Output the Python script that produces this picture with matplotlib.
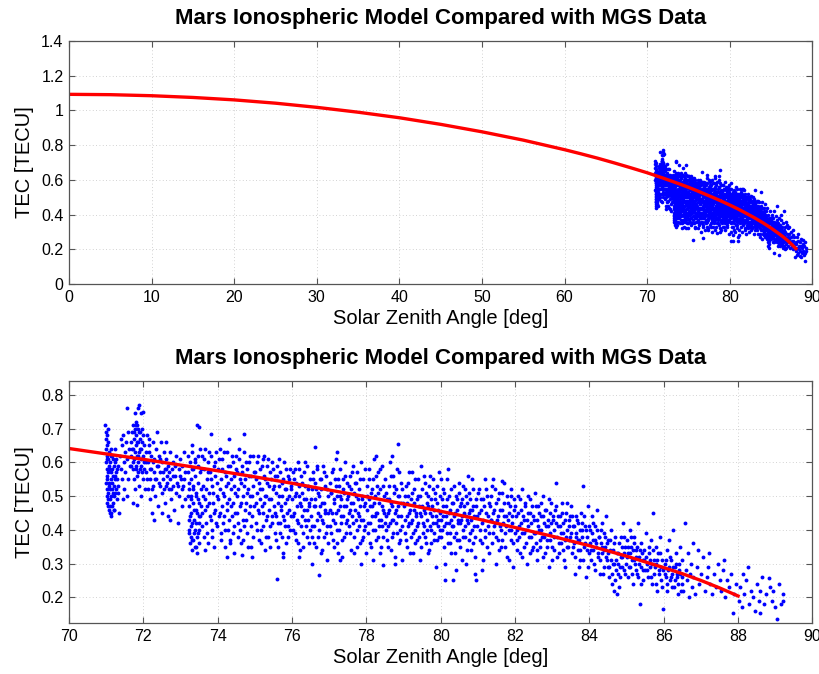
import numpy as np
from matplotlib import pyplot as plt
from matplotlib.ticker import FormatStrFormatter

plt.rcParams['font.family'] = ['Liberation Sans', 'DejaVu Sans']

# model curve (solar zenith angle [deg], TEC [TECU])
model_sza = [0, 5, 10, 15, 20, 25, 30, 35, 40, 45, 50, 55, 60, 62, 64, 66, 68, 70, 71, 72, 73, 74, 75,
             76, 77, 78, 79, 80, 81, 82, 83, 84, 85, 86, 86.5, 87, 87.5, 87.75, 88]
model_tec = [1.093, 1.091, 1.085, 1.075, 1.061, 1.042, 1.018, 0.990, 0.958, 0.920, 0.877, 0.829, 0.774,
             0.750, 0.725, 0.698, 0.670, 0.641, 0.625, 0.609, 0.592, 0.575, 0.557, 0.538, 0.518, 0.498,
             0.477, 0.455, 0.432, 0.407, 0.381, 0.353, 0.322, 0.288, 0.270, 0.250, 0.228, 0.216, 0.204]

# MGS observations (sza, tec), grouped by zenith angle band
obs_71 = [(70.98, 0.71), (70.99, 0.69), (71.00, 0.67), (71.00, 0.64), (71.01, 0.62), (71.00, 0.60),
          (71.02, 0.58), (71.01, 0.56), (71.00, 0.54), (71.02, 0.52), (71.01, 0.50), (71.03, 0.48),
          (71.05, 0.66), (71.06, 0.61), (71.05, 0.57), (71.07, 0.53), (71.06, 0.49), (71.08, 0.46),
          (71.10, 0.45), (71.12, 0.44), (71.14, 0.45), (71.11, 0.47), (71.13, 0.50), (71.10, 0.52),
          (71.12, 0.55), (71.09, 0.58), (71.11, 0.60), (71.08, 0.63), (71.15, 0.62), (71.16, 0.58),
          (71.17, 0.54), (71.18, 0.51), (71.19, 0.48), (71.20, 0.46), (71.21, 0.50), (71.22, 0.53),
          (71.23, 0.56), (71.24, 0.60), (71.26, 0.57), (71.27, 0.52), (71.28, 0.49), (71.30, 0.55),
          (71.31, 0.59), (71.33, 0.53), (71.34, 0.45), (71.04, 0.70), (71.03, 0.68), (71.14, 0.64),
          (71.20, 0.59), (71.25, 0.64),
          (71.01, 0.65), (71.02, 0.61), (71.03, 0.55), (71.04, 0.51), (71.05, 0.47), (71.07, 0.59),
          (71.09, 0.54), (71.10, 0.49), (71.12, 0.62), (71.13, 0.57), (71.15, 0.47), (71.16, 0.52),
          (71.18, 0.56), (71.19, 0.61), (71.21, 0.46), (71.23, 0.51), (71.25, 0.55), (71.27, 0.61),
          (71.29, 0.58), (71.32, 0.51),
          (71.38, 0.62), (71.40, 0.58), (71.42, 0.65), (71.44, 0.55), (71.45, 0.68), (71.47, 0.60),
          (71.49, 0.52), (71.50, 0.63), (71.52, 0.57), (71.54, 0.66), (71.55, 0.50), (71.57, 0.61),
          (71.58, 0.69), (71.60, 0.55), (71.62, 0.64), (71.63, 0.59), (71.46, 0.49), (71.41, 0.67),
          (71.56, 0.76)]

obs_71b = [(71.66, 0.66), (71.68, 0.62), (71.70, 0.69), (71.71, 0.58), (71.72, 0.64), (71.73, 0.71),
           (71.74, 0.55), (71.75, 0.67), (71.76, 0.61), (71.77, 0.70), (71.78, 0.52), (71.79, 0.65),
           (71.80, 0.72), (71.80, 0.59), (71.81, 0.68), (71.82, 0.62), (71.83, 0.71), (71.84, 0.56),
           (71.85, 0.66), (71.86, 0.60), (71.87, 0.70), (71.88, 0.63), (71.89, 0.53), (71.90, 0.67),
           (71.91, 0.58), (71.92, 0.69), (71.93, 0.61), (71.94, 0.64), (71.95, 0.50), (71.96, 0.66),
           (71.97, 0.57), (71.98, 0.62), (71.99, 0.68), (72.00, 0.55), (72.01, 0.60), (72.03, 0.65),
           (72.04, 0.52), (71.85, 0.76), (71.88, 0.77), (71.93, 0.745), (71.98, 0.75), (71.78, 0.745),
           (71.72, 0.48), (71.82, 0.475),
           (71.67, 0.59), (71.70, 0.64), (71.73, 0.60), (71.75, 0.69), (71.77, 0.63), (71.79, 0.58),
           (71.81, 0.71), (71.83, 0.66), (71.85, 0.62), (71.87, 0.57), (71.89, 0.69), (71.91, 0.64),
           (71.94, 0.59), (71.96, 0.70), (71.99, 0.61), (72.02, 0.58)]

obs_72 = [(72.07, 0.63), (72.08, 0.57), (72.10, 0.68), (72.12, 0.52), (72.13, 0.60), (72.15, 0.65),
          (72.17, 0.55), (72.18, 0.49), (72.20, 0.62), (72.22, 0.58), (72.24, 0.45), (72.25, 0.66),
          (72.27, 0.53), (72.29, 0.61), (72.30, 0.57), (72.32, 0.50), (72.34, 0.64), (72.35, 0.55),
          (72.37, 0.69), (72.39, 0.59), (72.40, 0.47), (72.42, 0.62), (72.44, 0.53), (72.46, 0.57),
          (72.47, 0.66), (72.49, 0.51), (72.51, 0.60), (72.53, 0.55), (72.55, 0.63), (72.57, 0.48),
          (72.58, 0.58), (72.60, 0.53), (72.62, 0.61), (72.64, 0.56), (72.66, 0.44), (72.67, 0.59),
          (72.69, 0.52), (72.71, 0.63), (72.73, 0.55), (72.75, 0.49), (72.77, 0.58), (72.79, 0.53),
          (72.81, 0.60), (72.83, 0.46), (72.85, 0.56), (72.87, 0.51), (72.89, 0.62), (72.91, 0.54),
          (72.93, 0.42), (72.95, 0.58), (72.97, 0.50), (72.99, 0.61), (73.01, 0.55), (73.03, 0.47),
          (73.05, 0.59), (73.07, 0.53), (73.09, 0.63), (73.11, 0.57), (73.13, 0.49), (72.28, 0.43),
          (72.50, 0.45), (72.72, 0.43), (72.16, 0.67), (72.60, 0.66),
          (72.06, 0.60), (72.11, 0.55), (72.14, 0.63), (72.19, 0.58), (72.23, 0.52), (72.26, 0.60),
          (72.31, 0.55), (72.36, 0.59), (72.41, 0.54), (72.45, 0.61), (72.52, 0.57), (72.56, 0.52),
          (72.61, 0.58), (72.65, 0.54), (72.70, 0.57), (72.74, 0.52), (72.80, 0.56), (72.86, 0.59),
          (72.92, 0.53), (72.98, 0.56), (73.04, 0.52), (73.10, 0.55)]

obs_73 = [(73.20, 0.62), (73.21, 0.57), (73.22, 0.52), (73.22, 0.47), (73.23, 0.43), (73.24, 0.39),
          (73.25, 0.36), (73.26, 0.60), (73.27, 0.55), (73.28, 0.50), (73.28, 0.45), (73.29, 0.41),
          (73.30, 0.37), (73.31, 0.34), (73.32, 0.63), (73.33, 0.58), (73.34, 0.53), (73.35, 0.48),
          (73.36, 0.43), (73.37, 0.39), (73.38, 0.35), (73.39, 0.61), (73.40, 0.56), (73.41, 0.51),
          (73.42, 0.46), (73.43, 0.42), (73.44, 0.38), (73.45, 0.33), (73.46, 0.59), (73.47, 0.54),
          (73.48, 0.49), (73.49, 0.44), (73.50, 0.40), (73.51, 0.36), (73.52, 0.64), (73.53, 0.57),
          (73.54, 0.52), (73.55, 0.47), (73.45, 0.71), (73.50, 0.705), (73.30, 0.65),
          (73.21, 0.50), (73.23, 0.40), (73.24, 0.54), (73.26, 0.44), (73.27, 0.38), (73.29, 0.49),
          (73.31, 0.58), (73.32, 0.42), (73.34, 0.37), (73.35, 0.52), (73.37, 0.46), (73.38, 0.60),
          (73.40, 0.40), (73.41, 0.35), (73.43, 0.50), (73.44, 0.45), (73.46, 0.39), (73.47, 0.62),
          (73.49, 0.48), (73.51, 0.42),
          (73.57, 0.62), (73.58, 0.45), (73.60, 0.53), (73.62, 0.38), (73.63, 0.58), (73.65, 0.49),
          (73.67, 0.64), (73.68, 0.42), (73.70, 0.55), (73.72, 0.47), (73.74, 0.60), (73.75, 0.36),
          (73.77, 0.51), (73.79, 0.57), (73.80, 0.44), (73.82, 0.62), (73.84, 0.40), (73.85, 0.53),
          (73.87, 0.48), (73.89, 0.59), (73.91, 0.35), (73.92, 0.56), (73.94, 0.46), (73.96, 0.63),
          (73.98, 0.50), (73.99, 0.41), (73.81, 0.685), (73.66, 0.34),
          (73.53, 0.44), (73.56, 0.58), (73.59, 0.41), (73.61, 0.50), (73.64, 0.61), (73.66, 0.46),
          (73.69, 0.52), (73.71, 0.39), (73.73, 0.57), (73.76, 0.48), (73.78, 0.63), (73.81, 0.43),
          (73.83, 0.55), (73.86, 0.38), (73.88, 0.51), (73.90, 0.45), (73.93, 0.60), (73.95, 0.42),
          (73.97, 0.54)]

obs_74 = [(74.01, 0.58), (74.03, 0.44), (74.05, 0.52), (74.06, 0.64), (74.08, 0.39), (74.10, 0.55),
          (74.12, 0.47), (74.13, 0.61), (74.15, 0.42), (74.17, 0.50), (74.19, 0.57), (74.20, 0.35),
          (74.22, 0.53), (74.24, 0.46), (74.26, 0.63), (74.27, 0.40), (74.29, 0.54), (74.31, 0.49),
          (74.33, 0.59), (74.34, 0.37), (74.36, 0.52), (74.38, 0.44), (74.40, 0.60), (74.42, 0.48),
          (74.44, 0.56), (74.45, 0.41), (74.47, 0.51), (74.49, 0.62), (74.30, 0.67), (74.25, 0.32),
          (74.45, 0.33),
          (74.02, 0.49), (74.04, 0.61), (74.07, 0.45), (74.09, 0.37), (74.11, 0.58), (74.14, 0.51),
          (74.16, 0.44), (74.18, 0.63), (74.21, 0.40), (74.23, 0.56), (74.25, 0.48), (74.28, 0.59),
          (74.30, 0.43), (74.32, 0.36), (74.35, 0.55), (74.37, 0.47), (74.39, 0.62), (74.41, 0.39),
          (74.43, 0.53), (74.46, 0.45), (74.48, 0.58),
          (74.51, 0.45), (74.53, 0.57), (74.54, 0.38), (74.56, 0.52), (74.58, 0.61), (74.60, 0.47),
          (74.62, 0.54), (74.63, 0.36), (74.65, 0.59), (74.67, 0.43), (74.69, 0.50), (74.71, 0.63),
          (74.72, 0.41), (74.74, 0.55), (74.76, 0.48), (74.78, 0.58), (74.80, 0.39), (74.81, 0.52),
          (74.83, 0.45), (74.85, 0.60), (74.87, 0.50), (74.89, 0.35), (74.90, 0.56), (74.92, 0.44),
          (74.94, 0.53), (74.96, 0.62), (74.98, 0.47), (74.70, 0.685), (74.65, 0.325), (74.93, 0.32),
          (74.52, 0.50), (74.55, 0.42), (74.57, 0.64), (74.59, 0.55), (74.61, 0.40), (74.64, 0.48),
          (74.66, 0.57), (74.68, 0.37), (74.70, 0.53), (74.73, 0.46), (74.75, 0.60), (74.77, 0.43),
          (74.79, 0.51), (74.82, 0.35), (74.84, 0.56), (74.86, 0.47), (74.88, 0.62), (74.91, 0.41),
          (74.93, 0.50), (74.95, 0.38), (74.97, 0.57)]

obs_75 = [(75.01, 0.57), (75.03, 0.42), (75.05, 0.51), (75.06, 0.60), (75.08, 0.46), (75.10, 0.37),
          (75.12, 0.54), (75.13, 0.49), (75.15, 0.58), (75.17, 0.40), (75.19, 0.52), (75.21, 0.45),
          (75.22, 0.61), (75.24, 0.48), (75.26, 0.34), (75.28, 0.55), (75.29, 0.43), (75.31, 0.50),
          (75.33, 0.59), (75.35, 0.38), (75.37, 0.53), (75.38, 0.46), (75.40, 0.57), (75.42, 0.41),
          (75.44, 0.49), (75.46, 0.60), (75.47, 0.44), (75.49, 0.52), (75.25, 0.62),
          (75.02, 0.48), (75.04, 0.55), (75.07, 0.40), (75.09, 0.62), (75.11, 0.45), (75.14, 0.52),
          (75.16, 0.36), (75.18, 0.59), (75.20, 0.47), (75.23, 0.41), (75.25, 0.56), (75.27, 0.50),
          (75.30, 0.38), (75.32, 0.54), (75.34, 0.44), (75.36, 0.61), (75.39, 0.49), (75.41, 0.35),
          (75.43, 0.55), (75.45, 0.42), (75.48, 0.58),
          (75.51, 0.47), (75.53, 0.56), (75.55, 0.39), (75.56, 0.51), (75.58, 0.44), (75.60, 0.59),
          (75.62, 0.48), (75.63, 0.35), (75.65, 0.53), (75.67, 0.42), (75.69, 0.57), (75.71, 0.46),
          (75.72, 0.50), (75.74, 0.38), (75.76, 0.55), (75.78, 0.43), (75.79, 0.60), (75.81, 0.48),
          (75.83, 0.52), (75.85, 0.36), (75.87, 0.45), (75.88, 0.56), (75.90, 0.41), (75.92, 0.50),
          (75.94, 0.58), (75.96, 0.44), (75.98, 0.53), (75.60, 0.255), (75.75, 0.32),
          (75.52, 0.53), (75.54, 0.45), (75.57, 0.37), (75.59, 0.56), (75.61, 0.42), (75.64, 0.50),
          (75.66, 0.61), (75.68, 0.39), (75.70, 0.47), (75.73, 0.54), (75.75, 0.44), (75.77, 0.33),
          (75.80, 0.52), (75.82, 0.41), (75.84, 0.58), (75.86, 0.49), (75.89, 0.38), (75.91, 0.55),
          (75.93, 0.46), (75.95, 0.40), (75.97, 0.52)]

obs_76 = [(76.01, 0.49), (76.03, 0.40), (76.05, 0.55), (76.06, 0.45), (76.08, 0.58), (76.10, 0.37),
          (76.12, 0.51), (76.13, 0.47), (76.15, 0.60), (76.17, 0.42), (76.19, 0.53), (76.21, 0.34),
          (76.22, 0.48), (76.24, 0.56), (76.26, 0.44), (76.28, 0.51), (76.29, 0.39), (76.31, 0.57),
          (76.33, 0.46), (76.35, 0.53), (76.37, 0.41), (76.38, 0.49), (76.40, 0.59), (76.42, 0.43),
          (76.44, 0.52), (76.46, 0.36), (76.47, 0.47), (76.49, 0.55), (76.20, 0.32),
          (76.02, 0.44), (76.04, 0.57), (76.07, 0.50), (76.09, 0.39), (76.11, 0.54), (76.14, 0.43),
          (76.16, 0.36), (76.18, 0.50), (76.20, 0.58), (76.23, 0.41), (76.25, 0.47), (76.27, 0.54),
          (76.30, 0.35), (76.32, 0.49), (76.34, 0.43), (76.36, 0.60), (76.39, 0.46), (76.41, 0.38),
          (76.43, 0.53), (76.45, 0.48), (76.48, 0.40),
          (76.51, 0.44), (76.53, 0.52), (76.55, 0.38), (76.56, 0.57), (76.58, 0.47), (76.60, 0.41),
          (76.62, 0.54), (76.63, 0.49), (76.65, 0.35), (76.67, 0.58), (76.69, 0.45), (76.71, 0.51),
          (76.72, 0.40), (76.74, 0.55), (76.76, 0.47), (76.78, 0.33), (76.79, 0.52), (76.81, 0.43),
          (76.83, 0.59), (76.85, 0.48), (76.87, 0.38), (76.88, 0.53), (76.90, 0.45), (76.92, 0.56),
          (76.94, 0.41), (76.96, 0.50), (76.98, 0.36), (76.62, 0.645), (76.72, 0.265), (76.55, 0.30),
          (76.52, 0.49), (76.54, 0.41), (76.57, 0.55), (76.59, 0.36), (76.61, 0.47), (76.64, 0.52),
          (76.66, 0.43), (76.68, 0.59), (76.70, 0.38), (76.73, 0.50), (76.75, 0.44), (76.77, 0.55),
          (76.80, 0.34), (76.82, 0.48), (76.84, 0.42), (76.86, 0.57), (76.89, 0.46), (76.91, 0.39),
          (76.93, 0.52), (76.95, 0.31), (76.97, 0.45)]

obs_77 = [(77.01, 0.54), (77.03, 0.46), (77.05, 0.39), (77.06, 0.51), (77.08, 0.57), (77.10, 0.43),
          (77.12, 0.48), (77.13, 0.35), (77.15, 0.55), (77.17, 0.45), (77.19, 0.61), (77.21, 0.40),
          (77.22, 0.50), (77.24, 0.33), (77.26, 0.53), (77.28, 0.47), (77.29, 0.58), (77.31, 0.42),
          (77.33, 0.49), (77.35, 0.37), (77.37, 0.55), (77.38, 0.44), (77.40, 0.51), (77.42, 0.60),
          (77.44, 0.39), (77.46, 0.47), (77.47, 0.54), (77.49, 0.43), (77.30, 0.31), (77.20, 0.63),
          (77.02, 0.41), (77.04, 0.51), (77.07, 0.45), (77.09, 0.58), (77.11, 0.37), (77.14, 0.49),
          (77.16, 0.42), (77.18, 0.53), (77.20, 0.36), (77.23, 0.46), (77.25, 0.55), (77.27, 0.40),
          (77.30, 0.50), (77.32, 0.44), (77.34, 0.32), (77.36, 0.52), (77.39, 0.47), (77.41, 0.38),
          (77.43, 0.56), (77.45, 0.42), (77.48, 0.49),
          (77.51, 0.50), (77.53, 0.41), (77.55, 0.56), (77.56, 0.46), (77.58, 0.34), (77.60, 0.52),
          (77.62, 0.44), (77.63, 0.59), (77.65, 0.48), (77.67, 0.38), (77.69, 0.54), (77.71, 0.43),
          (77.72, 0.50), (77.74, 0.35), (77.76, 0.57), (77.78, 0.45), (77.79, 0.41), (77.81, 0.52),
          (77.83, 0.47), (77.85, 0.60), (77.87, 0.37), (77.88, 0.49), (77.90, 0.43), (77.92, 0.55),
          (77.94, 0.40), (77.96, 0.48), (77.98, 0.33), (77.86, 0.30),
          (77.52, 0.45), (77.54, 0.53), (77.57, 0.39), (77.59, 0.48), (77.61, 0.57), (77.64, 0.42),
          (77.66, 0.51), (77.68, 0.33), (77.70, 0.46), (77.73, 0.54), (77.75, 0.40), (77.77, 0.49),
          (77.80, 0.44), (77.82, 0.36), (77.84, 0.55), (77.86, 0.43), (77.89, 0.50), (77.91, 0.38),
          (77.93, 0.47), (77.95, 0.58), (77.97, 0.41)]

obs_78 = [(78.01, 0.46), (78.03, 0.53), (78.05, 0.39), (78.06, 0.49), (78.08, 0.58), (78.10, 0.42),
          (78.12, 0.51), (78.13, 0.35), (78.15, 0.47), (78.17, 0.55), (78.19, 0.40), (78.21, 0.61),
          (78.22, 0.44), (78.24, 0.50), (78.26, 0.37), (78.28, 0.53), (78.29, 0.45), (78.31, 0.57),
          (78.33, 0.41), (78.35, 0.48), (78.37, 0.33), (78.38, 0.52), (78.40, 0.43), (78.42, 0.59),
          (78.44, 0.46), (78.46, 0.38), (78.47, 0.50), (78.49, 0.42), (78.25, 0.62), (78.45, 0.295),
          (78.02, 0.50), (78.04, 0.42), (78.07, 0.55), (78.09, 0.36), (78.11, 0.47), (78.14, 0.44),
          (78.16, 0.52), (78.18, 0.31), (78.20, 0.48), (78.23, 0.40), (78.25, 0.56), (78.27, 0.45),
          (78.30, 0.38), (78.32, 0.51), (78.34, 0.43), (78.36, 0.58), (78.39, 0.35), (78.41, 0.47),
          (78.43, 0.41), (78.45, 0.53), (78.48, 0.45),
          (78.51, 0.55), (78.53, 0.44), (78.55, 0.37), (78.56, 0.49), (78.58, 0.41), (78.60, 0.53),
          (78.62, 0.46), (78.63, 0.60), (78.65, 0.34), (78.67, 0.48), (78.69, 0.43), (78.71, 0.56),
          (78.72, 0.39), (78.74, 0.51), (78.76, 0.45), (78.78, 0.32), (78.79, 0.52), (78.81, 0.42),
          (78.83, 0.58), (78.85, 0.47), (78.87, 0.36), (78.88, 0.50), (78.90, 0.40), (78.92, 0.54),
          (78.94, 0.44), (78.96, 0.31), (78.98, 0.48), (78.85, 0.655), (78.70, 0.62),
          (78.52, 0.40), (78.54, 0.51), (78.57, 0.45), (78.59, 0.35), (78.61, 0.49), (78.64, 0.42),
          (78.66, 0.56), (78.68, 0.38), (78.70, 0.47), (78.73, 0.43), (78.75, 0.53), (78.77, 0.30),
          (78.80, 0.46), (78.82, 0.39), (78.84, 0.50), (78.86, 0.44), (78.89, 0.57), (78.91, 0.37),
          (78.93, 0.48), (78.95, 0.41), (78.97, 0.52)]

obs_79 = [(79.02, 0.47), (79.04, 0.39), (79.06, 0.53), (79.08, 0.44), (79.10, 0.35), (79.12, 0.50),
          (79.14, 0.42), (79.16, 0.57), (79.18, 0.46), (79.20, 0.38), (79.22, 0.51), (79.24, 0.43),
          (79.26, 0.33), (79.28, 0.48), (79.30, 0.40), (79.32, 0.55), (79.34, 0.45), (79.36, 0.37),
          (79.38, 0.50), (79.40, 0.42), (79.42, 0.47), (79.44, 0.31), (79.46, 0.59), (79.48, 0.44),
          (79.50, 0.52), (79.52, 0.39), (79.54, 0.46), (79.56, 0.41), (79.58, 0.54), (79.60, 0.36),
          (79.62, 0.48), (79.64, 0.43), (79.66, 0.50), (79.68, 0.34), (79.70, 0.45), (79.72, 0.56),
          (79.74, 0.40), (79.76, 0.47), (79.78, 0.42), (79.80, 0.52), (79.82, 0.37), (79.84, 0.49),
          (79.86, 0.44), (79.88, 0.29), (79.90, 0.53), (79.92, 0.41), (79.94, 0.46), (79.96, 0.38),
          (79.98, 0.50),
          (79.03, 0.43), (79.05, 0.50), (79.07, 0.37), (79.09, 0.48), (79.11, 0.41), (79.13, 0.54),
          (79.15, 0.45), (79.17, 0.33), (79.19, 0.49), (79.21, 0.42), (79.23, 0.57), (79.25, 0.39),
          (79.27, 0.46), (79.29, 0.52), (79.31, 0.36), (79.33, 0.44), (79.35, 0.49), (79.37, 0.41),
          (79.39, 0.55), (79.41, 0.38), (79.43, 0.45), (79.45, 0.50), (79.47, 0.35),
          (79.51, 0.47), (79.53, 0.42), (79.55, 0.56), (79.57, 0.38), (79.59, 0.45), (79.61, 0.51),
          (79.63, 0.40), (79.65, 0.33), (79.67, 0.47), (79.69, 0.53), (79.71, 0.41), (79.73, 0.36),
          (79.75, 0.49), (79.77, 0.44), (79.79, 0.55), (79.81, 0.39), (79.83, 0.46), (79.85, 0.51),
          (79.87, 0.42), (79.89, 0.37), (79.91, 0.48), (79.93, 0.43), (79.95, 0.57), (79.97, 0.40),
          (79.99, 0.45)]

obs_80 = [(80.00, 0.43), (80.02, 0.55), (80.04, 0.40), (80.06, 0.47), (80.08, 0.35), (80.10, 0.51),
          (80.12, 0.25), (80.14, 0.44), (80.16, 0.39), (80.18, 0.49), (80.20, 0.58), (80.22, 0.42),
          (80.24, 0.46), (80.26, 0.36), (80.28, 0.52), (80.30, 0.41), (80.32, 0.48), (80.34, 0.25),
          (80.36, 0.44), (80.38, 0.33), (80.40, 0.50), (80.42, 0.39), (80.44, 0.46), (80.46, 0.42),
          (80.48, 0.54), (80.50, 0.37), (80.52, 0.47), (80.54, 0.43), (80.56, 0.31), (80.58, 0.49),
          (80.60, 0.40), (80.62, 0.45), (80.64, 0.52), (80.66, 0.38), (80.68, 0.44), (80.70, 0.48),
          (80.72, 0.34), (80.74, 0.42), (80.76, 0.51), (80.78, 0.46), (80.80, 0.39), (80.82, 0.43),
          (80.84, 0.55), (80.86, 0.36), (80.88, 0.47), (80.90, 0.41), (80.92, 0.32), (80.94, 0.49),
          (80.96, 0.25), (80.98, 0.44),
          (80.01, 0.38), (80.03, 0.49), (80.05, 0.44), (80.07, 0.52), (80.09, 0.41), (80.11, 0.30),
          (80.13, 0.47), (80.15, 0.42), (80.17, 0.55), (80.19, 0.36), (80.21, 0.45), (80.23, 0.50),
          (80.25, 0.39), (80.27, 0.43), (80.29, 0.33), (80.31, 0.48), (80.33, 0.41), (80.35, 0.53),
          (80.37, 0.38), (80.39, 0.45), (80.41, 0.28), (80.43, 0.49), (80.45, 0.37), (80.47, 0.43),
          (80.49, 0.51),
          (80.51, 0.42), (80.53, 0.35), (80.55, 0.48), (80.57, 0.44), (80.59, 0.53), (80.61, 0.38),
          (80.63, 0.47), (80.65, 0.41), (80.67, 0.30), (80.69, 0.50), (80.71, 0.43), (80.73, 0.56),
          (80.75, 0.37), (80.77, 0.45), (80.79, 0.49), (80.81, 0.34), (80.83, 0.46), (80.85, 0.40),
          (80.87, 0.52), (80.89, 0.44), (80.91, 0.38), (80.93, 0.27), (80.95, 0.47), (80.97, 0.41),
          (80.99, 0.51)]

obs_81 = [(81.02, 0.52), (81.05, 0.40), (81.08, 0.46), (81.10, 0.36), (81.13, 0.49), (81.15, 0.43),
          (81.18, 0.55), (81.20, 0.38), (81.23, 0.45), (81.25, 0.50), (81.28, 0.41), (81.30, 0.33),
          (81.33, 0.47), (81.35, 0.43), (81.38, 0.53), (81.40, 0.39), (81.43, 0.46), (81.45, 0.42),
          (81.48, 0.30), (81.50, 0.48), (81.53, 0.37), (81.55, 0.44), (81.58, 0.51), (81.60, 0.41),
          (81.63, 0.35), (81.65, 0.46), (81.68, 0.42), (81.70, 0.54), (81.73, 0.39), (81.75, 0.44),
          (81.78, 0.32), (81.80, 0.48), (81.83, 0.40), (81.85, 0.45), (81.88, 0.37), (81.90, 0.50),
          (81.93, 0.42), (81.95, 0.29), (81.98, 0.46), (81.12, 0.28), (81.42, 0.55), (81.65, 0.545),
          (81.88, 0.52),
          (81.03, 0.45), (81.06, 0.37), (81.09, 0.49), (81.11, 0.42), (81.14, 0.31), (81.16, 0.47),
          (81.19, 0.40), (81.21, 0.52), (81.24, 0.35), (81.26, 0.44), (81.29, 0.48), (81.31, 0.39),
          (81.34, 0.43), (81.36, 0.50), (81.39, 0.36), (81.41, 0.45), (81.44, 0.41), (81.46, 0.52),
          (81.49, 0.38),
          (81.51, 0.43), (81.54, 0.49), (81.56, 0.34), (81.59, 0.46), (81.61, 0.40), (81.64, 0.51),
          (81.66, 0.37), (81.69, 0.44), (81.71, 0.48), (81.74, 0.35), (81.76, 0.41), (81.79, 0.50),
          (81.81, 0.43), (81.84, 0.31), (81.86, 0.47), (81.89, 0.40), (81.91, 0.44), (81.94, 0.36),
          (81.96, 0.49), (81.99, 0.39)]

obs_82 = [(82.02, 0.44), (82.05, 0.37), (82.08, 0.50), (82.10, 0.41), (82.13, 0.33), (82.15, 0.46),
          (82.18, 0.39), (82.20, 0.52), (82.23, 0.43), (82.25, 0.35), (82.28, 0.48), (82.30, 0.40),
          (82.33, 0.30), (82.35, 0.45), (82.38, 0.38), (82.40, 0.49), (82.43, 0.42), (82.45, 0.34),
          (82.48, 0.44), (82.50, 0.39), (82.53, 0.51), (82.55, 0.36), (82.58, 0.43), (82.60, 0.31),
          (82.63, 0.47), (82.65, 0.40), (82.68, 0.35), (82.70, 0.44), (82.73, 0.38), (82.75, 0.50),
          (82.78, 0.42), (82.80, 0.33), (82.83, 0.46), (82.85, 0.37), (82.88, 0.41), (82.90, 0.29),
          (82.93, 0.45), (82.95, 0.39), (82.98, 0.48),
          (82.01, 0.47), (82.04, 0.40), (82.06, 0.34), (82.09, 0.45), (82.11, 0.38), (82.14, 0.49),
          (82.16, 0.42), (82.19, 0.32), (82.21, 0.44), (82.24, 0.39), (82.26, 0.47), (82.29, 0.36),
          (82.31, 0.43), (82.34, 0.50), (82.36, 0.41), (82.39, 0.33), (82.41, 0.45), (82.44, 0.38),
          (82.46, 0.47), (82.49, 0.35),
          (82.51, 0.43), (82.54, 0.39), (82.56, 0.47), (82.59, 0.34), (82.61, 0.41), (82.64, 0.45),
          (82.66, 0.37), (82.69, 0.48), (82.71, 0.40), (82.74, 0.32), (82.76, 0.44), (82.79, 0.38),
          (82.81, 0.46), (82.84, 0.41), (82.86, 0.35), (82.89, 0.43), (82.91, 0.49), (82.94, 0.37),
          (82.96, 0.42), (82.99, 0.31)]

obs_83 = [(83.00, 0.35), (83.03, 0.43), (83.05, 0.38), (83.08, 0.46), (83.10, 0.54), (83.13, 0.32),
          (83.15, 0.41), (83.18, 0.36), (83.20, 0.44), (83.23, 0.39), (83.25, 0.48), (83.28, 0.34),
          (83.30, 0.42), (83.33, 0.37), (83.35, 0.29), (83.38, 0.45), (83.40, 0.40), (83.43, 0.35),
          (83.45, 0.43), (83.48, 0.38), (83.50, 0.47), (83.53, 0.33), (83.55, 0.41), (83.58, 0.36),
          (83.60, 0.27), (83.63, 0.44), (83.65, 0.39), (83.68, 0.34), (83.70, 0.42), (83.73, 0.37),
          (83.75, 0.31), (83.78, 0.45), (83.80, 0.40), (83.82, 0.53), (83.85, 0.35), (83.88, 0.41),
          (83.90, 0.26), (83.93, 0.38), (83.95, 0.47), (83.98, 0.33),
          (83.01, 0.44), (83.04, 0.40), (83.06, 0.34), (83.09, 0.42), (83.11, 0.47), (83.14, 0.38),
          (83.16, 0.44), (83.19, 0.33), (83.21, 0.41), (83.24, 0.36), (83.26, 0.45), (83.29, 0.39),
          (83.31, 0.31), (83.34, 0.43), (83.36, 0.38), (83.39, 0.48), (83.41, 0.35), (83.44, 0.41),
          (83.46, 0.37), (83.49, 0.44),
          (83.51, 0.39), (83.54, 0.44), (83.56, 0.35), (83.59, 0.41), (83.61, 0.32), (83.64, 0.38),
          (83.66, 0.43), (83.69, 0.37), (83.71, 0.29), (83.74, 0.40), (83.76, 0.34), (83.79, 0.42),
          (83.81, 0.38), (83.84, 0.31), (83.86, 0.44), (83.89, 0.36), (83.91, 0.40), (83.94, 0.34),
          (83.96, 0.29), (83.99, 0.41)]

obs_84 = [(84.02, 0.40), (84.05, 0.34), (84.08, 0.44), (84.10, 0.37), (84.13, 0.30), (84.15, 0.41),
          (84.18, 0.35), (84.20, 0.46), (84.23, 0.32), (84.25, 0.38), (84.28, 0.27), (84.30, 0.36),
          (84.33, 0.42), (84.35, 0.33), (84.38, 0.39), (84.40, 0.29), (84.43, 0.35), (84.45, 0.44),
          (84.48, 0.31), (84.50, 0.37), (84.53, 0.26), (84.55, 0.34), (84.58, 0.40), (84.60, 0.24),
          (84.63, 0.30), (84.65, 0.22), (84.67, 0.36), (84.70, 0.25), (84.72, 0.31), (84.74, 0.21),
          (84.76, 0.27), (84.78, 0.33), (84.80, 0.23), (84.83, 0.29), (84.85, 0.38), (84.88, 0.32),
          (84.90, 0.42), (84.93, 0.28), (84.95, 0.35), (84.98, 0.30),
          (84.01, 0.36), (84.04, 0.31), (84.06, 0.39), (84.09, 0.34), (84.11, 0.42), (84.14, 0.37),
          (84.16, 0.28), (84.19, 0.36), (84.21, 0.40), (84.24, 0.33), (84.26, 0.38), (84.29, 0.31),
          (84.31, 0.40), (84.34, 0.35), (84.36, 0.27), (84.39, 0.34), (84.41, 0.38), (84.44, 0.32),
          (84.46, 0.36), (84.49, 0.29),
          (84.51, 0.33), (84.54, 0.29), (84.56, 0.37), (84.59, 0.31), (84.61, 0.27), (84.64, 0.34),
          (84.66, 0.30), (84.69, 0.38), (84.71, 0.28), (84.73, 0.33), (84.77, 0.30), (84.79, 0.36),
          (84.82, 0.26), (84.84, 0.32), (84.87, 0.35), (84.89, 0.29), (84.92, 0.33), (84.94, 0.38),
          (84.97, 0.27)]

obs_85 = [(85.00, 0.37), (85.03, 0.26), (85.05, 0.33), (85.08, 0.40), (85.10, 0.29), (85.13, 0.35),
          (85.15, 0.31), (85.18, 0.24), (85.20, 0.38), (85.23, 0.30), (85.25, 0.34), (85.28, 0.27),
          (85.30, 0.42), (85.33, 0.32), (85.36, 0.18), (85.38, 0.29), (85.40, 0.36), (85.43, 0.31),
          (85.45, 0.25), (85.48, 0.34), (85.50, 0.28), (85.53, 0.39), (85.55, 0.30), (85.58, 0.26),
          (85.60, 0.33), (85.63, 0.29), (85.65, 0.37), (85.68, 0.24), (85.70, 0.45), (85.73, 0.31),
          (85.75, 0.27), (85.78, 0.35), (85.80, 0.30), (85.83, 0.22), (85.85, 0.33), (85.88, 0.28),
          (85.90, 0.38), (85.93, 0.25), (85.95, 0.31), (85.98, 0.165),
          (85.01, 0.32), (85.04, 0.35), (85.06, 0.29), (85.09, 0.33), (85.11, 0.38), (85.14, 0.27),
          (85.16, 0.34), (85.19, 0.31), (85.21, 0.36), (85.24, 0.28), (85.26, 0.32), (85.29, 0.35),
          (85.31, 0.26), (85.34, 0.30), (85.37, 0.34), (85.39, 0.24), (85.42, 0.33), (85.44, 0.28),
          (85.47, 0.31),
          (85.52, 0.32), (85.56, 0.28), (85.59, 0.35), (85.62, 0.31), (85.66, 0.26), (85.69, 0.30),
          (85.72, 0.34), (85.76, 0.29), (85.79, 0.24), (85.82, 0.31), (85.86, 0.27), (85.89, 0.33),
          (85.92, 0.29), (85.96, 0.23), (85.99, 0.28)]

obs_86 = [(86.02, 0.30), (86.05, 0.26), (86.08, 0.34), (86.10, 0.22), (86.13, 0.29), (86.15, 0.37),
          (86.18, 0.25), (86.20, 0.31), (86.23, 0.27), (86.25, 0.40), (86.28, 0.23), (86.30, 0.29),
          (86.33, 0.33), (86.35, 0.26), (86.38, 0.21), (86.40, 0.30), (86.43, 0.35), (86.45, 0.27),
          (86.48, 0.24), (86.50, 0.31), (86.53, 0.22), (86.57, 0.42), (86.60, 0.28), (86.63, 0.25),
          (86.65, 0.33), (86.68, 0.20), (86.70, 0.27), (86.73, 0.30), (86.75, 0.23), (86.78, 0.36),
          (86.80, 0.26), (86.85, 0.21), (86.90, 0.29), (86.95, 0.24), (87.00, 0.27), (87.05, 0.32),
          (87.10, 0.22), (87.15, 0.26), (87.20, 0.29), (87.25, 0.24), (87.30, 0.21), (87.35, 0.27),
          (87.40, 0.23), (87.45, 0.30), (87.50, 0.25), (87.55, 0.22), (87.60, 0.28), (87.65, 0.20),
          (87.70, 0.25), (87.75, 0.23), (87.80, 0.27), (87.86, 0.153), (87.90, 0.21), (87.95, 0.24),
          (86.92, 0.34), (87.22, 0.33), (87.62, 0.31),
          (86.03, 0.27), (86.06, 0.31), (86.09, 0.24), (86.12, 0.28), (86.16, 0.32), (86.19, 0.26),
          (86.22, 0.23), (86.26, 0.29), (86.29, 0.25), (86.32, 0.30), (86.36, 0.27), (86.39, 0.24),
          (86.42, 0.28), (86.46, 0.22), (86.49, 0.26)]

obs_88 = [(88.02, 0.19), (88.06, 0.23), (88.10, 0.17), (88.15, 0.21), (88.20, 0.25), (88.26, 0.29),
          (88.30, 0.18), (88.35, 0.22), (88.40, 0.20), (88.45, 0.16), (88.50, 0.24), (88.55, 0.19),
          (88.60, 0.22), (88.65, 0.26), (88.70, 0.18), (88.75, 0.21), (88.82, 0.256), (88.85, 0.23),
          (88.90, 0.19), (88.95, 0.22), (89.00, 0.17), (89.05, 0.135), (89.10, 0.24), (89.15, 0.18),
          (89.20, 0.21), (89.20, 0.19), (88.12, 0.27), (88.58, 0.155)]

TITLE = 'Mars Ionospheric Model Compared with MGS Data'


def style_axes(ax):
    for sp in ax.spines.values():
        sp.set_color('#555555')
        sp.set_linewidth(0.9)
    ax.tick_params(direction='in', top=True, right=True, length=4, width=0.8,
                   color='#555555', labelsize=11.5, pad=4)
    ax.grid(True, linestyle=(0, (1, 3)), color='#c4c4c4', linewidth=0.6)
    ax.set_axisbelow(True)
    ax.set_title(TITLE, fontsize=16, fontweight='bold', pad=12)
    ax.set_xlabel('Solar Zenith Angle [deg]', fontsize=14.5, labelpad=3)
    ax.set_ylabel('TEC [TECU]', fontsize=14.5, labelpad=5)
    ax.yaxis.set_major_formatter(FormatStrFormatter('%g'))


def create_plot(filename):
    bands = [obs_71, obs_71b, obs_72, obs_73, obs_74, obs_75, obs_76, obs_77, obs_78,
             obs_79, obs_80, obs_81, obs_82, obs_83, obs_84, obs_85, obs_86, obs_88]
    obs = np.array([p for band in bands for p in band])

    fig = plt.figure(figsize=(8.2, 6.74), dpi=100)
    ax0 = fig.add_axes([0.0841, 0.5786, 0.9067, 0.3605])
    ax1 = fig.add_axes([0.0841, 0.0752, 0.9067, 0.3600])

    ax0.plot(obs[:, 0], obs[:, 1], 'o', color='#0000ff', ms=2.6, mew=0)
    ax0.plot(model_sza, model_tec, '-', color='#ff0000', lw=2.4)
    ax0.set_xlim(0, 90)
    ax0.set_ylim(0, 1.4)
    ax0.set_xticks(np.arange(0, 91, 10))
    ax0.set_yticks(np.arange(0, 1.41, 0.2))
    style_axes(ax0)

    ax1.plot(obs[:, 0], obs[:, 1], 'o', color='#0000ff', ms=2.8, mew=0)
    ax1.plot(model_sza, model_tec, '-', color='#ff0000', lw=2.4)
    ax1.set_xlim(70, 90)
    ax1.set_ylim(0.123, 0.842)
    ax1.set_xticks(np.arange(70, 91, 2))
    ax1.set_yticks(np.arange(0.2, 0.81, 0.1))
    style_axes(ax1)

    plt.savefig(filename, dpi=100)


create_plot('out.png')
